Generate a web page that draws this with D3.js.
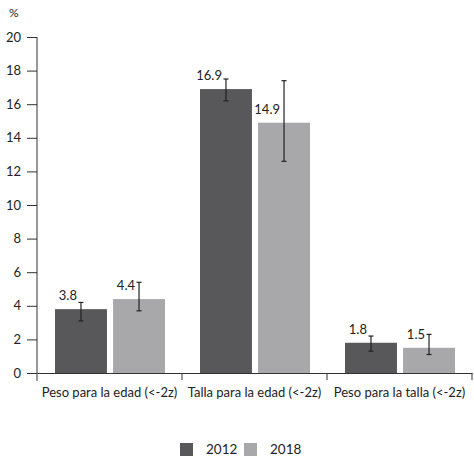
<!DOCTYPE html>
<html><head><meta charset="utf-8">
<script src="https://cdn.jsdelivr.net/npm/d3@7"></script>
<style>body{margin:0;background:#fff}svg{display:block}text{font-family:Lato,"Open Sans",sans-serif;fill:#222}</style>
</head><body><svg id="c" width="474" height="474"></svg>
<script>
const categories = ["Peso para la edad (<-2z)", "Talla para la edad (<-2z)", "Peso para la talla (<-2z)"];
const years = ["2012", "2018"];
const values2012 = [3.8, 16.9, 1.8];
const values2018 = [4.4, 14.9, 1.5];
const low2012 = [3.1, 16.2, 1.3];
const high2012 = [4.2, 17.5, 2.2];
const low2018 = [3.7, 12.6, 1.1];
const high2018 = [5.4, 17.4, 2.3];
const yTicks = [0, 2, 4, 6, 8, 10, 12, 14, 16, 18, 20];
const colors = {"2012": "#58585a", "2018": "#a8a8ab"};

const series = {"2012": {v: values2012, lo: low2012, hi: high2012}, "2018": {v: values2018, lo: low2018, hi: high2018}};
const data = [];
categories.forEach((c, i) => years.forEach(y => data.push({cat: c, year: y, v: series[y].v[i], lo: series[y].lo[i], hi: series[y].hi[i]})));

const svg = d3.select("#c");
const y = d3.scaleLinear().domain([0, 20]).range([373, 37]);
const x0 = d3.scaleBand().domain(categories).range([37, 472]).padding(0);
const x1 = d3.scaleBand().domain(years).range([18, 128]).paddingInner(0.105).paddingOuter(0);

// y axis
const ya = svg.append("g").attr("transform", "translate(37,0)")
  .call(d3.axisLeft(y).tickValues(yTicks).tickSize(10).tickPadding(6).tickFormat(d3.format("d")));
ya.select(".domain").remove();
ya.selectAll("line").attr("stroke", "#333");
ya.selectAll("text").style("font-size", "13px").attr("fill", "#222");
svg.append("line").attr("x1", 37).attr("x2", 37).attr("y1", y(20)).attr("y2", 381).attr("stroke", "#333");
svg.append("text").attr("x", 9).attr("y", 17).style("font-size", "12px").text("%");

// bars
const g = svg.append("g");
g.selectAll("rect").data(data).join("rect")
  .attr("x", d => x0(d.cat) + x1(d.year))
  .attr("width", x1.bandwidth())
  .attr("y", d => y(d.v))
  .attr("height", d => y(0) - y(d.v))
  .attr("fill", d => colors[d.year]);

// error bars
const cx = d => x0(d.cat) + x1(d.year) + x1.bandwidth() / 2;
const eb = svg.append("g").attr("stroke", "#222").attr("stroke-width", 1.2);
eb.selectAll(".v").data(data).join("line").attr("x1", cx).attr("x2", cx).attr("y1", d => y(d.lo)).attr("y2", d => y(d.hi));
eb.selectAll(".t").data(data).join("line").attr("x1", d => cx(d) - 2.5).attr("x2", d => cx(d) + 2.5).attr("y1", d => y(d.hi)).attr("y2", d => y(d.hi));
eb.selectAll(".b").data(data).join("line").attr("x1", d => cx(d) - 2.5).attr("x2", d => cx(d) + 2.5).attr("y1", d => y(d.lo)).attr("y2", d => y(d.lo));

// value labels
svg.append("g").selectAll("text").data(data).join("text")
  .attr("x", d => cx(d) - 4)
  .attr("y", d => y(d.v) - 9)
  .attr("text-anchor", "end")
  .style("font-size", "13px")
  .text(d => d.v.toFixed(1));

// x axis
const xa = svg.append("g").attr("transform", "translate(0,373)")
  .call(d3.axisBottom(x0).tickSize(0).tickPadding(15));
xa.select(".domain").attr("stroke", "#333");
xa.selectAll("text").style("font-size", "13px").attr("fill", "#222");
svg.append("g").selectAll("line").data(categories.slice(1).concat(["end"])).join("line")
  .attr("x1", (d, i) => i < 2 ? x0(d) : x0.range()[1])
  .attr("x2", (d, i) => i < 2 ? x0(d) : x0.range()[1])
  .attr("y1", 373).attr("y2", 380).attr("stroke", "#333");

// legend
const lg = svg.append("g");
const lx = [180, 244];
years.forEach((yr, i) => {
  lg.append("rect").attr("x", lx[i]).attr("y", 443).attr("width", 13).attr("height", 13).attr("fill", colors[yr]);
  lg.append("text").attr("x", lx[i] + 26).attr("y", 454).style("font-size", "13.5px").text(yr);
});
</script></body></html>
